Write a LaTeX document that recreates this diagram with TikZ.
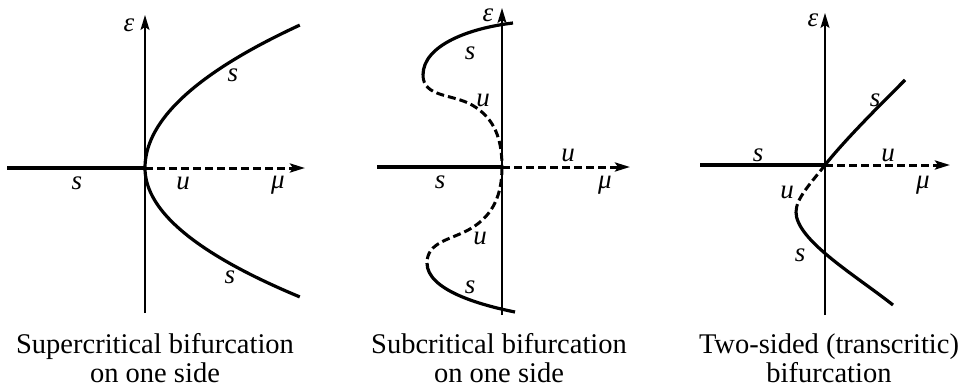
\documentclass[tikz,border=0pt]{standalone}
\usepackage{fontspec}
\setmainfont{Liberation Serif}
\usetikzlibrary{arrows.meta}
\begin{document}
\begin{tikzpicture}[x=1pt,y=-1pt,
  axis/.style={line width=1.5pt},
  axisarrow/.style={-{Stealth[length=15pt,width=9pt,inset=3pt]}},
  stab/.style={line width=3.2pt},
  unstab/.style={line width=3pt,dash pattern=on 8pt off 4pt},
  lab/.style={font=\fontsize{27}{27}\selectfont\itshape, inner sep=0pt},
  captext/.style={font=\fontsize{28.5}{29}\selectfont, inner sep=0pt, anchor=base}]
\useasboundingbox (0,0) rectangle (962,389);

% ---------- Panel 1 ----------
\coordinate (o1) at (145,168);
\draw[axis,axisarrow] (145,313) -- (145,15);
\draw[stab] (7,168) -- (o1);
\draw[unstab,axisarrow] (o1) -- (305,168);
\draw[stab,smooth,samples=60,domain=0:1] plot ({145+155*\x*\x},{168-143*\x});
\draw[stab,smooth,samples=60,domain=0:1] plot ({145+155*\x*\x},{168+129*\x});
\node[lab] (e1) at (129,25) {ε};
\node[lab] (s1a) at (77,183) {s};
\node[lab] (u1) at (183,183) {u};
\node[lab] (m1) at (278,185) {μ};
\node[lab] (s1b) at (233,75) {s};
\node[lab] (s1c) at (230,277) {s};
\node[captext] (c1a) at (155,353) {Supercritical bifurcation};
\node[captext] (c1b) at (155,382) {on one side};

% ---------- Panel 2 ----------
\coordinate (o2) at (502,167);
\draw[axis,axisarrow] (502,315) -- (502,8);
\draw[stab] (377,167) -- (o2);
\draw[unstab,axisarrow] (o2) -- (630,167);
\draw[stab] (513,23) .. controls (470,28) and (423,45) .. (423,75);
\draw[unstab] (423,75) to[out=-90,in=150] (472,105) to[out=-30,in=90] (o2);
\draw[unstab] (o2) to[out=-90,in=30] (470,229) to[out=210,in=90] (427,263);
\draw[stab] (427,263) .. controls (427,290) and (480,305) .. (515,312);
\node[lab] (e2) at (488,15) {ε};
\node[lab] (s2a) at (470,53) {s};
\node[lab] (u2a) at (483,100) {u};
\node[lab] (u2b) at (568,155) {u};
\node[lab] (s2b) at (440,182) {s};
\node[lab] (m2) at (605,185) {μ};
\node[lab] (u2c) at (480,238) {u};
\node[lab] (s2c) at (470,287) {s};
\node[captext] (c2a) at (499,353) {Subcritical bifurcation};
\node[captext] (c2b) at (499,382) {on one side};

% ---------- Panel 3 ----------
\coordinate (o3) at (825,165);
\draw[axis,axisarrow] (825,315) -- (825,13);
\draw[stab] (700,165) -- (o3);
\draw[unstab,axisarrow] (o3) -- (950,165);
\draw[stab] (o3) .. controls (845,140) and (875,110) .. (905,80);
\draw[unstab] (o3) .. controls (812,182) and (796,198) .. (796,212);
\draw[stab] (796,212) .. controls (796,240) and (855,275) .. (893,305);
\node[lab] (e3) at (813,20) {ε};
\node[lab] (s3a) at (875,100) {s};
\node[lab] (s3b) at (758,155) {s};
\node[lab] (u3a) at (888,155) {u};
\node[lab] (m3) at (923,185) {μ};
\node[lab] (u3b) at (787,192) {u};
\node[lab] (s3c) at (800,255) {s};
\node[captext] (c3a) at (829,353) {Two-sided (transcritic)};
\node[captext] (c3b) at (829,382) {bifurcation};
\end{tikzpicture}
\end{document}
